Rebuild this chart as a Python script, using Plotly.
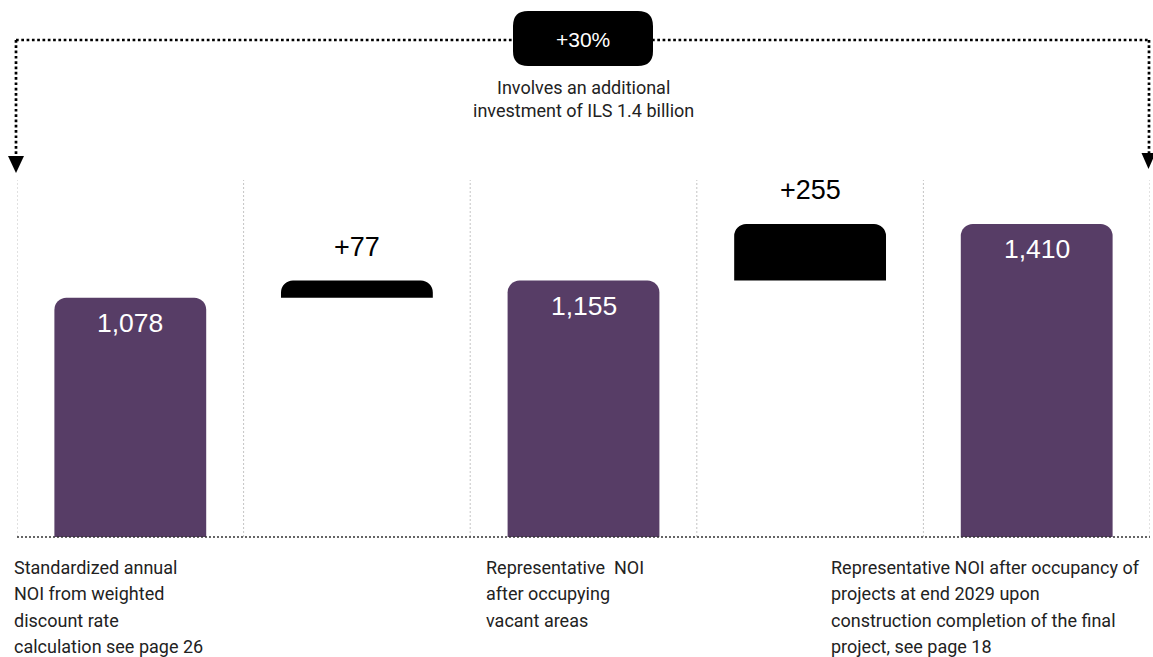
import plotly.graph_objects as go

# NOI bridge (ILS millions): totals and the increments between them
stage_kind = ["total", "delta", "total", "delta", "total"]
stage_value = [1078, 77, 1155, 255, 1410]
stage_caption = [
    ["Standardized annual", "NOI from weighted", "discount rate", "calculation see page 26"],
    [],
    ["Representative  NOI", "after occupying", "vacant areas"],
    [],
    ["Representative NOI after occupancy of", "projects at end 2029 upon",
     "construction completion of the final", "project, see page 18"],
]
growth_label = "+30%"
growth_note = ["Involves an additional", "investment of ILS 1.4 billion"]

PURPLE = "#573D66"
W, H = 1153, 657
ML, MR, MT, MB = 17, 3, 180, 120
PW, PH = W - ML - MR, H - MT - MB
Y_MAX = 1608
BAR_W = 0.67
RADIUS = 12                      # px, top corners only
UNIT_PX = Y_MAX / PH             # data units per pixel
EXT = 30 * UNIT_PX               # extra length hidden under the bar foot


def px(x):
    return (x - ML) / PW


def py(y):
    return (H - MB - y) / PH


# bar bases: increments float on top of the preceding total
bases, colors = [], []
running = 0
for kind, v in zip(stage_kind, stage_value):
    if kind == "total":
        bases.append(0)
        running = v
        colors.append(PURPLE)
    else:
        bases.append(running)
        running += v
        colors.append("#000000")

xs = list(range(len(stage_value)))

fig = go.Figure()
# rounded bars, stretched downward so only the top corners show rounding
fig.add_trace(go.Bar(
    x=xs, y=[v + EXT for v in stage_value], base=[b - EXT for b in bases],
    width=BAR_W,
    marker=dict(color=colors, line=dict(width=0), cornerradius=RADIUS),
    hoverinfo="skip",
))
# white foot hides the stretched part under the floating increments
delta_idx = [i for i, k in enumerate(stage_kind) if k == "delta"]
fig.add_trace(go.Bar(
    x=[xs[i] for i in delta_idx],
    y=[EXT + 2 * UNIT_PX for _ in delta_idx],
    base=[bases[i] - EXT - 2 * UNIT_PX for i in delta_idx],
    width=BAR_W + 0.01,
    marker=dict(color="white", line=dict(width=0), cornerradius=0),
    hoverinfo="skip",
))

annotations = []
for i, (kind, v, b) in enumerate(zip(stage_kind, stage_value, bases)):
    top = b + v
    if kind == "total":
        annotations.append(dict(
            x=i, y=top, xref="x", yref="y", text=f"{v:,}", showarrow=False,
            yanchor="middle", yshift=-25,
            font=dict(family="Liberation Sans, Arial", size=26.5, color="white")))
    else:
        annotations.append(dict(
            x=i, y=top, xref="x", yref="y", text=f"+{v:,}", showarrow=False,
            yanchor="middle", yshift=34,
            font=dict(family="Liberation Sans, Arial", size=27, color="black")))

# category captions under the baseline, one annotation per line
caption_x = [12, None, 484, None, 829]
for cx, lines in zip(caption_x, stage_caption):
    for k, line in enumerate(lines):
        annotations.append(dict(
            x=px(cx), y=py(567 + 26.5 * k), xref="paper", yref="paper",
            text=line, showarrow=False, xanchor="left", yanchor="middle",
            font=dict(family="Roboto", size=18, color="#222222")))

# growth badge and note
annotations.append(dict(
    x=px(583), y=py(39), xref="paper", yref="paper", text=growth_label,
    showarrow=False, xanchor="center", yanchor="middle",
    font=dict(family="Liberation Sans, Arial", size=21, color="white")))
for k, line in enumerate(growth_note):
    annotations.append(dict(
        x=px(583), y=py(87 + 23.5 * k), xref="paper", yref="paper", text=line,
        showarrow=False, xanchor="center", yanchor="middle",
        font=dict(family="Roboto", size=18, color="#222222")))

shapes = []
# light dotted column separators
for k in range(len(stage_value) + 1):
    shapes.append(dict(type="line", xref="x", yref="paper",
                       x0=k - 0.5, x1=k - 0.5, y0=0, y1=1,
                       line=dict(color="#c4c4c4", width=1, dash="2px,2px"), layer="below"))
# dotted baseline
shapes.append(dict(type="line", xref="paper", yref="paper",
                   x0=0, x1=1, y0=py(537), y1=py(537),
                   line=dict(color="#333333", width=1.5, dash="2px,2px")))

# bracket spanning first to last total
bracket = dict(color="black", width=2.7, dash="2.7px,2.6px")
shapes.append(dict(type="line", xref="paper", yref="paper",
                   x0=px(16), x1=px(1149), y0=py(40), y1=py(40), line=bracket))
shapes.append(dict(type="line", xref="paper", yref="paper",
                   x0=px(16), x1=px(16), y0=py(40), y1=py(157), line=bracket))
shapes.append(dict(type="line", xref="paper", yref="paper",
                   x0=px(1149), x1=px(1149), y0=py(40), y1=py(154), line=bracket))


def tri(cx, top, half, h):
    return (f"M {px(cx - half)},{py(top)} L {px(cx + half)},{py(top)} "
            f"L {px(cx)},{py(top + h)} Z")


shapes.append(dict(type="path", xref="paper", yref="paper", path=tri(16, 156, 8, 17),
                   fillcolor="black", line=dict(width=0)))
shapes.append(dict(type="path", xref="paper", yref="paper", path=tri(1148.5, 153, 7, 16),
                   fillcolor="black", line=dict(width=0)))


def rounded_rect(x0, y0, x1, y1, r):
    pts = [
        ("M", [(x0 + r, y0)]), ("L", [(x1 - r, y0)]), ("Q", [(x1, y0), (x1, y0 + r)]),
        ("L", [(x1, y1 - r)]), ("Q", [(x1, y1), (x1 - r, y1)]),
        ("L", [(x0 + r, y1)]), ("Q", [(x0, y1), (x0, y1 - r)]),
        ("L", [(x0, y0 + r)]), ("Q", [(x0, y0), (x0 + r, y0)]),
    ]
    out = []
    for cmd, p in pts:
        out.append(cmd + " " + " ".join(f"{px(a)},{py(b)}" for a, b in p))
    return " ".join(out) + " Z"


shapes.append(dict(type="path", xref="paper", yref="paper",
                   path=rounded_rect(513, 11, 653, 66, 15),
                   fillcolor="black", line=dict(width=0)))

fig.update_layout(
    width=W, height=H,
    margin=dict(l=ML, r=MR, t=MT, b=MB),
    paper_bgcolor="white", plot_bgcolor="white",
    showlegend=False,
    barmode="overlay",
    xaxis=dict(range=[-0.5, len(stage_value) - 0.5], visible=False, fixedrange=True),
    yaxis=dict(range=[0, Y_MAX], visible=False, fixedrange=True),
    shapes=shapes,
    annotations=annotations,
)

fig.write_html("out.html", config={"displayModeBar": False})
